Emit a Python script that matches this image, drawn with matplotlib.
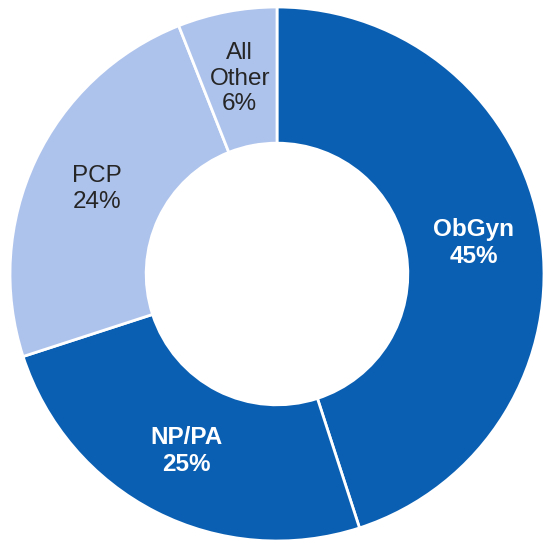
import matplotlib

matplotlib.use("Agg")
import matplotlib.pyplot as plt
import numpy as np

plt.rcParams["font.family"] = ["Liberation Sans", "DejaVu Sans"]

# Datos (porcentajes por tipo de proveedor)
categories = ["ObGyn", "NP/PA", "PCP", "All\nOther"]
shares = [45, 25, 24, 6]

DARK_BLUE = "#0A5FB3"
LIGHT_BLUE = "#AEC3EC"
slice_colors = [DARK_BLUE, DARK_BLUE, LIGHT_BLUE, LIGHT_BLUE]
text_colors = ["white", "white", "#262626", "#262626"]
text_weights = ["bold", "bold", "normal", "normal"]

fig = plt.figure(figsize=(5.43, 5.46), dpi=100)
ax = fig.add_axes([10 / 543, 5 / 546, 534 / 543, 534 / 546])

wedges, _ = ax.pie(
    shares,
    colors=slice_colors,
    startangle=90,
    counterclock=False,
    radius=1.0,
    wedgeprops={"width": 0.51, "edgecolor": "white", "linewidth": 2},
)

# etiquetas a media altura del anillo
for w, name, pct, tc, fw in zip(wedges, categories, shares, text_colors, text_weights):
    mid = np.deg2rad((w.theta1 + w.theta2) / 2)
    r = 0.745
    ax.text(
        r * np.cos(mid), r * np.sin(mid), f"{name}\n{pct}%",
        ha="center", va="center", color=tc, fontweight=fw,
        fontsize=17.5, linespacing=1.22,
    )

ax.set_xlim(-1, 1)
ax.set_ylim(-1, 1)
ax.set_aspect("equal")
ax.axis("off")
for w in wedges:
    w.set_clip_on(False)

fig.savefig("out.png", dpi=100)
